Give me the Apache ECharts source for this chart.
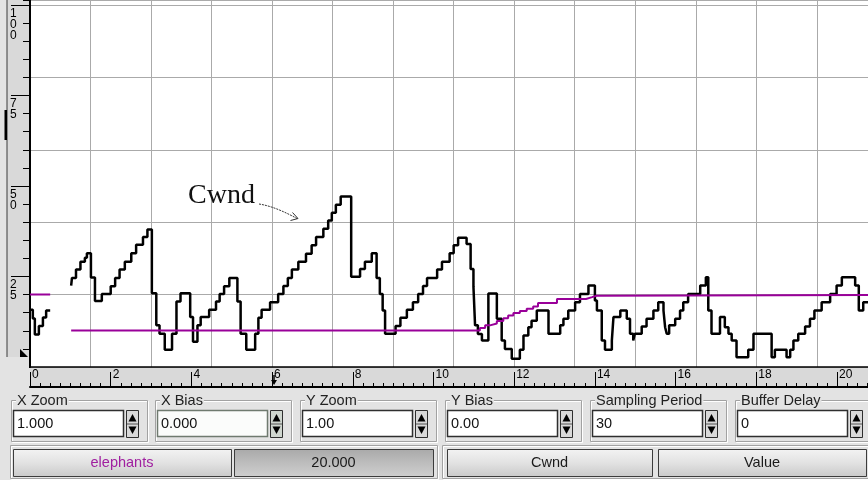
<!DOCTYPE html>
<html><head><meta charset="utf-8">
<script src="https://cdn.jsdelivr.net/npm/echarts@6/dist/echarts.min.js"></script>
<style>html,body{margin:0;padding:0;background:#e3e3e3;overflow:hidden}#c{width:868px;height:480px}</style>
</head><body><div id="c"></div>
<script>
// ---------------- data ----------------
// Cwnd trace: [time, value] steps (value holds until next time); null = gap
const cwndPoints = [
  [0,15.8],[0.07,13.4],[0.12,9.0],[0.22,11.3],[0.32,13.7],[0.40,15.6],[0.45,15.6],[0.5,null],
  [1.02,22.5],[1.04,24.6],[1.14,26.9],[1.25,29.1],[1.36,30.2],[1.41,31.4],[1.51,24.7],[1.61,18.2],
  [1.78,20.2],[2.0,22.3],[2.11,24.6],[2.22,26.9],[2.35,29.1],[2.51,31.4],[2.63,33.8],[2.80,35.9],
  [2.91,38.0],[3.02,20.4],[3.13,11.5],[3.21,9.2],[3.34,4.75],[3.52,9.2],[3.63,18.1],[3.73,20.4],
  [3.97,13.8],[4.04,7.0],[4.15,11.5],[4.23,13.8],[4.44,15.8],[4.61,18.1],[4.70,20.2],[4.81,22.3],
  [4.94,24.6],[5.14,18.1],[5.22,9.2],[5.36,4.75],[5.58,9.2],[5.66,13.6],[5.74,15.8],[5.95,17.9],
  [6.15,20.2],[6.28,22.4],[6.39,24.6],[6.49,26.9],[6.65,29.1],[6.84,31.3],[6.98,33.6],[7.09,35.9],
  [7.27,38.2],[7.39,40.5],[7.48,42.6],[7.58,44.8],[7.70,47.1],[7.96,24.9],[8.18,27.1],[8.30,29.1],
  [8.47,31.4],[8.59,24.6],[8.67,20.2],[8.74,15.6],[8.80,9.2],[9.06,11.3],[9.18,13.6],[9.34,15.8],
  [9.49,17.9],[9.62,20.2],[9.74,22.4],[9.84,24.6],[10.09,26.9],[10.21,29.1],[10.40,31.4],[10.50,33.6],
  [10.61,35.7],[10.82,34.0],[10.92,27.1],[10.99,22.2],[11.03,11.5],[11.10,9.1],[11.20,7.3],[11.36,20.3],
  [11.57,13.3],[11.69,7.3],[11.77,5.0],[11.94,2.3],[12.14,4.75],[12.23,8.7],[12.35,11.0],[12.43,12.8],
  [12.56,15.6],[12.85,9.2],[13.14,11.5],[13.22,13.3],[13.34,15.6],[13.51,17.9],[13.63,20.2],[13.84,22.5],
  [14.00,18.4],[14.05,15.6],[14.17,7.3],[14.25,4.75],[14.42,7.3],[14.46,13.8],[14.63,15.6],[14.79,13.3],
  [14.87,9.2],[14.95,7.3],[14.99,9.2],[15.16,11.2],[15.28,13.3],[15.45,15.6],[15.57,17.9],[15.70,15.6],
  [15.74,11.0],[15.78,9.2],[15.84,11.5],[15.99,13.3],[16.11,15.6],[16.19,17.9],[16.31,20.2],[16.61,22.5],
  [16.75,24.8],[16.81,15.6],[16.89,9.2],[17.10,13.8],[17.22,11.0],[17.31,9.2],[17.39,7.3],[17.51,2.7],
  [17.80,4.75],[17.93,9.2],[18.38,2.7],[18.46,4.75],[18.75,2.7],[18.84,4.75],[18.92,7.3],[19.04,9.2],
  [19.21,11.2],[19.33,13.3],[19.44,15.6],[19.62,17.9],[19.83,20.2],[19.99,22.5],[20.12,24.8],[20.45,22.5],
  [20.54,15.6],[20.65,17.9],[20.77,17.9]
];
// purple trace ("elephants")
const elephantPoints = [
  [0,20],[0.45,20],[0.5,null],
  [1.02,10.1],[11.15,10.8],[11.28,11.5],[11.40,12.0],[11.57,12.7],[11.73,13.5],[11.85,14.2],
  [11.98,14.9],[12.14,15.5],[12.31,16.1],[12.47,16.7],[12.59,17.7],[13.06,18.8],[13.78,19.3],
  [13.93,19.7],[14.04,19.9],[20.77,19.9]
];
const xRulerTicks = [0,2,4,6,8,10,12,14,16,18,20];
const yRulerTicks = [25,50,75,100];
const controlTitles = ['X Zoom','X Bias','Y Zoom','Y Bias','Sampling Period','Buffer Delay'];
const controlValues = ['1.000','0.000','1.00','0.00','30','0'];
const buttonLabels = ['elephants','20.000','Cwnd','Value'];
const annotationText = 'Cwnd';

// ---------------- layout ----------------
const BG = '#e3e3e3';
const PLOT_LEFT = 30, PLOT_BOTTOM = 367, PX_PER_X = 40.35, PX_PER_Y = 3.62;
const X_MAX = (868 - PLOT_LEFT) / PX_PER_X;
const Y_MAX = PLOT_BOTTOM / PX_PER_Y;
const UIFONT = '"Liberation Sans", Arial, sans-serif';

function etched(x, y, w, h) {
  return [
    {type:'rect', shape:{x:x+1.5,y:y+1.5,width:w,height:h}, style:{fill:'none',stroke:'#ffffff',lineWidth:1}},
    {type:'rect', shape:{x:x+0.5,y:y+0.5,width:w,height:h}, style:{fill:'none',stroke:'#a2a2a2',lineWidth:1}}
  ];
}
function spin(x, y, w, h, hi) {
  const m = y + h / 2;
  return [
    {type:'rect', shape:{x:x+0.5,y:y+0.5,width:w,height:h}, style:{fill: hi ? '#cfd6cf' : '#d9d9d9', stroke:'#2e2e2e', lineWidth:1}},
    {type:'line', shape:{x1:x+1,y1:m+0.5,x2:x+w,y2:m+0.5}, style:{stroke:'#555',lineWidth:1}},
    {type:'polygon', shape:{points:[[x+w/2+0.5,y+4],[x+2.5,m-2],[x+w-1.5,m-2]]}, style:{fill:'#000'}},
    {type:'polygon', shape:{points:[[x+w/2+0.5,y+h-3],[x+2.5,m+3],[x+w-1.5,m+3]]}, style:{fill:'#000'}}
  ];
}
function control(i) {
  const fx = [11,155,300,445,590,735][i];
  const els = [];
  els.push(...etched(fx, 400, 136, 41));
  els.push({type:'text', x:fx+5, y:400.5, style:{text:controlTitles[i], fontSize:14.5, fontFamily:UIFONT, fill:'#222', verticalAlign:'middle', backgroundColor:BG, padding:[0,1,0,1]}});
  els.push({type:'rect', shape:{x:fx+2.5,y:410.5,width:110,height:26}, style:{fill: i===1 ? '#fbfcfb' : '#ffffff', stroke: i===1 ? '#6f7a6f' : '#2e2e2e', lineWidth:1.5}});
  els.push({type:'text', x:fx+6, y:424, style:{text:controlValues[i], fontSize:14.5, fontFamily:UIFONT, fill:'#111', verticalAlign:'middle'}});
  els.push(...spin(fx+115, 410, 12, 27, i===1));
  return els;
}
function button(x, w, label, color, pressed) {
  return [
    {type:'rect', shape:{x:x+0.5,y:449.5,width:w,height:27},
     style:{fill:{type:'linear',x:0,y:0,x2:0,y2:1,colorStops: pressed ?
        [{offset:0,color:'#a9a9a9'},{offset:0.5,color:'#bdbdbd'},{offset:1,color:'#cfcfcf'}] :
        [{offset:0,color:'#f3f3f3'},{offset:0.5,color:'#e2e2e2'},{offset:1,color:'#c9c9c9'}]},
       stroke:'#3c3c3c', lineWidth:1}},
    {type:'text', x:x+w/2, y:463, style:{text:label, fontSize:14.5, fontFamily:UIFONT, fill:color, align:'center', verticalAlign:'middle'}}
  ];
}

const graphics = [];
graphics.push({type:'rect', z:-1, shape:{x:7,y:0,width:23,height:357}, style:{fill:'#d9d9d9'}});
graphics.push({type:'line', shape:{x1:7,y1:0,x2:7,y2:357}, style:{stroke:'#3a3a3a',lineWidth:1}});
graphics.push({type:'rect', shape:{x:4.5,y:110,width:2.5,height:30}, style:{fill:'#000'}});
graphics.push({type:'rect', z:-1, shape:{x:30,y:367,width:838,height:20}, style:{fill:'#d9d9d9'}});
graphics.push({type:'rect', z:10, shape:{x:0,y:357,width:29,height:31}, style:{fill:BG}});
graphics.push({type:'polygon', z:11, shape:{points:[[20,349],[20,357],[28,357]]}, style:{fill:'#000'}});
graphics.push({type:'line', z:11, shape:{x1:274,y1:375,x2:274,y2:381}, style:{stroke:'#000',lineWidth:1.5}});
graphics.push({type:'polygon', z:11, shape:{points:[[271,380],[277,380],[274,385]]}, style:{fill:'#000'}});
graphics.push({type:'text', z:20, x:188, y:196, style:{text:annotationText, fontSize:28, fontFamily:'"Liberation Serif", "Times New Roman", serif', fill:'#111', verticalAlign:'middle'}});
graphics.push({type:'bezierCurve', z:20, shape:{x1:259,y1:204,cpx1:272,cpy1:206,cpx2:285,cpy2:212,x2:297,y2:218.5}, style:{stroke:'#333',lineWidth:1,lineDash:[2,1],fill:'none'}});
graphics.push({type:'polyline', z:20, shape:{points:[[292.5,212.5],[298,218.5],[290.5,220.5]]}, style:{stroke:'#333',lineWidth:1,fill:'none'}});
for (let i = 0; i < 6; i++) graphics.push(...control(i));
graphics.push(...etched(10, 445, 427, 33));
graphics.push(...etched(442, 445, 430, 33));
graphics.push(...button(13, 218, buttonLabels[0], '#a020a0', false));
graphics.push(...button(234, 199, buttonLabels[1], '#1a1a1a', true));
graphics.push(...button(447, 205, buttonLabels[2], '#1a1a1a', false));
graphics.push(...button(658, 208, buttonLabels[3], '#1a1a1a', false));

const minorAxis = (interval, position, offset, length) => ({
  type:'value', min:0, max: position === 'bottom' ? X_MAX : Y_MAX, interval, position, offset,
  axisLine:{show:false, onZero:false},
  axisTick:{show:true, inside: position === 'bottom', length, lineStyle:{color:'#000', width:1}},
  axisLabel:{show:false}, splitLine:{show:false}
});

const chart = echarts.init(document.getElementById('c'), null, {renderer:'canvas', width:868, height:480});
chart.setOption({
  animation:false,
  backgroundColor:BG,
  grid:{left:PLOT_LEFT, right:0, top:0, bottom:480-PLOT_BOTTOM, show:true, backgroundColor:'#ffffff', borderWidth:0},
  xAxis:[
    {type:'value', min:0, max:X_MAX, interval:1.5, position:'bottom',
     axisLine:{show:true, onZero:false, lineStyle:{color:'#000', width:1.5}},
     axisTick:{show:false}, axisLabel:{show:false},
     splitLine:{show:true, lineStyle:{color:'#aaaaaa', width:1}}},
    {type:'value', min:0, max:X_MAX, interval:2, position:'bottom', offset:20,
     axisLine:{show:true, onZero:false, lineStyle:{color:'#000', width:2}},
     axisTick:{show:true, inside:true, length:15, lineStyle:{color:'#000', width:1}},
     axisLabel:{inside:true, margin:6, align:'left', verticalAlign:'bottom', padding:[0,0,0,2],
       fontSize:12, fontFamily:UIFONT, color:'#000', showMaxLabel:false,
       formatter:v => xRulerTicks.indexOf(Math.round(v*1000)/1000) >= 0 ? String(Math.round(v)) : ''},
     splitLine:{show:false}},
    minorAxis(0.25, 'bottom', 20, 4)
  ],
  yAxis:[
    {type:'value', min:0, max:Y_MAX, interval:20, position:'left',
     axisLine:{show:false, onZero:false}, axisTick:{show:false}, axisLabel:{show:false},
     splitLine:{show:true, lineStyle:{color:'#aaaaaa', width:1}}},
    {type:'value', min:0, max:Y_MAX, interval:25, position:'left', offset:0,
     axisLine:{show:true, onZero:false, lineStyle:{color:'#000', width:2}},
     axisTick:{show:true, inside:false, length:19, lineStyle:{color:'#000', width:1}},
     axisLabel:{margin:20, align:'left', verticalAlign:'top', padding:[3,0,0,0], lineHeight:11,
       fontSize:12, fontFamily:UIFONT, color:'#000', showMaxLabel:false,
       formatter:v => yRulerTicks.indexOf(Math.round(v*1000)/1000) >= 0 ? String(Math.round(v)).split('').join('\n') : ''},
     splitLine:{show:false}},
    minorAxis(5, 'left', 0, 7)
  ],
  series:[
    {name:'Cwnd', type:'line', xAxisIndex:0, yAxisIndex:0, data:cwndPoints, step:'end',
     showSymbol:false, symbol:'none', connectNulls:false, z:3,
     lineStyle:{color:'#000000', width:2.5}},
    {name:'elephants', type:'line', xAxisIndex:0, yAxisIndex:0, data:elephantPoints, step:'end',
     showSymbol:false, symbol:'none', connectNulls:false, z:4,
     lineStyle:{color:'#990099', width:2}}
  ],
  graphic:{elements:graphics}
});
</script>
</body></html>
